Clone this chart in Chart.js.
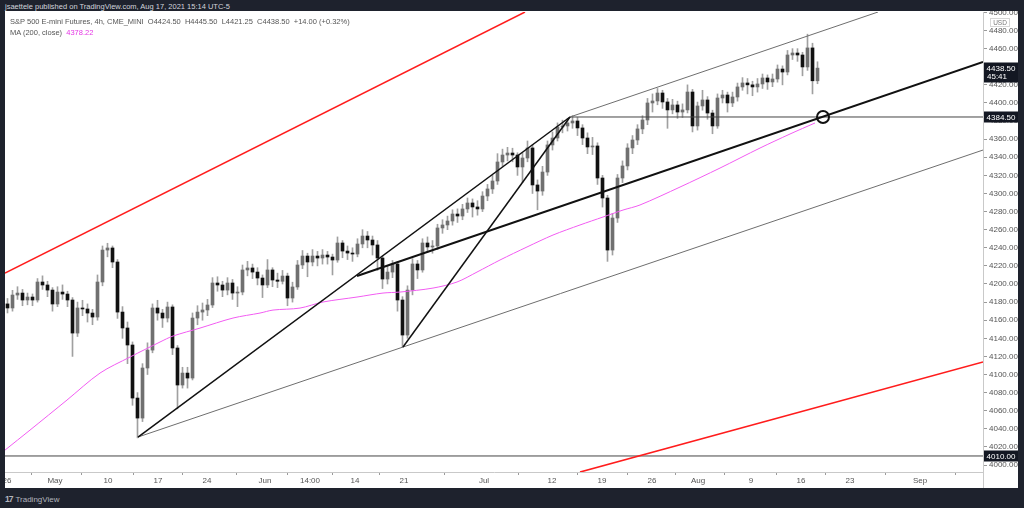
<!DOCTYPE html>
<html>
<head>
<meta charset="utf-8">
<script src="https://cdn.jsdelivr.net/npm/chart.js@4.4.1/dist/chart.umd.min.js"></script>
<style>
html, body { margin: 0; padding: 0; width: 1024px; height: 508px; overflow: hidden; background: #1e222d; font-family: "Liberation Sans", Arial, sans-serif; }
#pub { position: absolute; left: 5px; top: 2px; font-size: 7.5px; color: #d1d4dc; }
#frame { position: absolute; left: 5px; top: 11px; width: 1013px; height: 477px; background: #fff; }
#chart { position: absolute; left: 5px; top: 11px; }
#legend { position: absolute; left: 10px; top: 16px; font-size: 7.5px; color: #555; line-height: 11px; white-space: pre; }
#legend .ma { color: #e536e5; }
#logo { position: absolute; left: 5px; top: 494px; font-size: 8px; color: #b2b5be; }
#logo b { font-size: 8.5px; letter-spacing: -1px; margin-right: 3px; }
</style>
</head>
<body>
<div id="pub">jsaettele published on TradingView.com, Aug 17, 2021 15:14 UTC-5</div>
<div id="frame"></div>
<canvas id="chart" width="1013" height="477"></canvas>
<div id="legend">S&amp;P 500 E-mini Futures, 4h, CME_MINI  O4424.50  H4445.50  L4421.25  C4438.50  +14.00 (+0.32%)
MA (200, close)  <span class="ma">4378.22</span></div>
<div id="logo"><b>17</b>TradingView</div>
<script>
const closes = [4173.5,4187.8,4190,4182.3,4185.6,4182.3,4202.2,4198.9,4193.3,4177.9,
  4191.1,4188.9,4182.3,4145.8,4173.5,4172.4,4167.9,4163.5,4202.2,4237.5,
  4239.8,4224.3,4169,4151.4,4132.6,4074,4051.9,4107.2,4127,4173.5,
  4167.9,4162.4,4174.6,4129.3,4088.4,4101.6,4096.1,4162.4,4169,4171.3,
  4176.8,4201.1,4198.9,4193.3,4201.1,4190,4191.1,4215.5,4217.7,4213.2,
  4206.6,4198.9,4215.5,4204.4,4203,4208.8,4184.5,4196.7,4221,4230.9,
  4224.3,4230.9,4228.7,4232,4229.8,4226.5,4245.3,4236.4,4234.2,4233.1,
  4244.2,4253,4248.6,4243.1,4228.7,4205.5,4213.2,4222.1,4182.3,4143.6,
  4193.3,4222.1,4215.5,4245.3,4240.9,4242,4261.9,4265.2,4269.6,4277.3,
  4275.1,4282.9,4289.5,4285.1,4282.9,4297.2,4305,4313.8,4334.8,4342.5,
  4344.7,4342.5,4329.3,4339.2,4350.3,4309.4,4302.7,4323.7,4353.6,4361.3,
  4373.5,4374.6,4377.9,4380.1,4372.4,4361.3,4351.4,4352.5,4317.1,4295,
  4237.5,4272.9,4317.1,4330.4,4350.3,4359.1,4371.3,4381.2,4400,4402.2,
  4411,4401.1,4392.3,4397.8,4390,4392.3,4412.1,4374.6,4396.7,4403.3,
  4388.9,4374.6,4405.5,4408.8,4400,4406.6,4417.7,4422.1,4420,4417.7,
  4421,4427.6,4423.2,4426.5,4437.5,4434.2,4453,4455.2,4453,4439.8,
  4460.8,4424.5,4438.5];
const firstOpen = 4178;
const highs = [4184,4193,4197,4194,4190,4189,4206,4209,4203,4196,
  4197,4199,4192,4185,4180,4182,4178,4172,4210,4242,
  4245,4242,4227,4175,4158,4136,4080,4112,4135,4178,
  4182,4172,4180,4177,4132,4108,4108,4168,4176,4179,
  4183,4207,4208,4203,4207,4205,4197,4221,4225,4222,
  4218,4210,4227,4218,4212,4215,4212,4202,4226,4237,
  4234,4238,4236,4238,4236,4233,4252,4248,4242,4240,
  4250,4260,4258,4253,4248,4231,4220,4226,4225,4186,
  4198,4228,4226,4250,4252,4248,4266,4271,4275,4282,
  4283,4288,4295,4294,4292,4302,4310,4320,4344,4349,
  4351,4350,4345,4345,4358,4354,4315,4330,4358,4368,
  4378,4381,4383,4386,4384,4376,4367,4362,4356,4320,
  4298,4278,4321,4336,4355,4364,4376,4386,4405,4410,
  4416,4414,4405,4404,4402,4399,4420,4415,4401,4414,
  4407,4392,4410,4414,4412,4412,4422,4428,4427,4424,
  4427,4432,4431,4432,4442,4441,4458,4460,4460,4456,
  4476,4466,4445.5];
const lows = [4168,4170,4183,4176,4177,4176,4180,4194,4186,4170,
  4175,4183,4175,4120,4142,4165,4158,4155,4160,4198,
  4230,4218,4162,4140,4112,4066,4030,4048,4100,4124,
  4160,4152,4158,4122,4062,4085,4085,4094,4155,4160,
  4165,4174,4192,4186,4188,4183,4175,4188,4209,4206,
  4199,4185,4196,4197,4196,4200,4176,4180,4194,4217,
  4208,4220,4220,4222,4222,4210,4224,4229,4227,4225,
  4230,4240,4240,4232,4215,4195,4200,4207,4170,4130,
  4140,4188,4206,4213,4235,4234,4238,4256,4260,4265,
  4268,4271,4279,4274,4276,4280,4292,4300,4310,4330,
  4336,4335,4320,4312,4335,4300,4282,4298,4320,4348,
  4358,4367,4369,4372,4364,4354,4344,4343,4310,4285,
  4225,4232,4268,4312,4326,4344,4354,4366,4376,4390,
  4398,4394,4372,4388,4383,4384,4389,4368,4370,4392,
  4382,4366,4372,4400,4390,4396,4402,4414,4410,4408,
  4412,4416,4415,4418,4423,4420,4431,4448,4446,4430,
  4436,4410,4421.25];

// MA(200) read at a few points
const maSlots = [-0.5,4.5,11.9,18.5,24.5,30.5,33.1,38.5,45.1,50.5,53.1,58.5,63.1,69.9,75.1,78.5,85.1,89.9,93.9,98.5,103.9,109.1,114.5,119.1,123.1,126.5,134.5,142.5,150.5,156.5,161.5];
const maValues = [4016.5,4038.6,4071.8,4101.6,4119.3,4135.9,4142.5,4151.3,4162.4,4167.9,4171.2,4173.4,4180.1,4185.6,4190.0,4191.1,4195.5,4202.2,4213.2,4226.5,4240.9,4254.1,4265.2,4274.0,4281.7,4287.3,4307.1,4328.1,4350.2,4365.7,4377.9];

// drawn lines: [slot, price] end points
const redUpper = [[-0.5, 4212], [103.5, 4500.5]];
const redLower = [[114.5, 3992.2], [195.1, 4113.8]];
const channelLow = [[26.1, 4030.9], [195.1, 4348.0]];
const channelHigh = [[112.5, 4384.5], [174.1, 4500.5]];
const trendA = [[26.1, 4030.9], [112.5, 4384.5]];
const trendB = [[79.1, 4130.4], [112.5, 4384.5]];
const trendC = [[69.9, 4208.8], [195.1, 4445.3]];
const levelHigh = [[112.5, 4384.5], [195.1, 4384.5]];
const levelLow = [[-0.5, 4010], [195.1, 4010]];
const ringPoint = [163.1, 4384.5];

// axes
const xTickPos = [-0.1, 9.5, 20.1, 30.1, 39.9, 51.5, 60.5, 69.5, 79.3, 95.3, 108.9, 118.9, 128.9, 138.1, 148.7, 158.7, 168.5, 182.5];
const xTickText = ['26', 'May', '10', '17', '24', 'Jun', '14:00', '14', '21', 'Jul', '12', '19', '26', 'Aug', '9', '16', '23', 'Sep'];
const yTicks = [4000,4020,4040,4060,4080,4100,4120,4140,4160,4180,4200,4220,4240,4260,4280,4300,4320,4340,4360,4380,4400,4420,4440,4460,4480,4500];
const priceMarks = [4438.5, 4384.5, 4010];
const priceMarkText = ['4438.50', '4384.50', '4010.00'];
const countdown = '45:41';

const opens = closes.map((c, i) => i ? closes[i - 1] : firstOpen);
const bodies = closes.map((c, i) => ({ x: i, y: [opens[i], c] }));
const wicks = closes.map((c, i) => ({ x: i, y: [lows[i], highs[i]] }));
const isUp = closes.map((c, i) => c >= opens[i]);
const pts = arr => arr.map(p => ({ x: p[0], y: p[1] }));

function seg(data, color, width, order) {
    return { type: 'line', data: pts(data), borderColor: color, borderWidth: width, pointRadius: 0, tension: 0, order: order };
}

// boxes on the price axis
const axisBoxes = {
    id: 'axisBoxes',
    afterDraw(chart) {
        const { ctx, chartArea, scales } = chart;
        const y = scales.y;
        const left = chartArea.right + 1;
        const w = chart.width - left;
        ctx.save();
        ctx.strokeStyle = '#c9c9c9';
        ctx.lineWidth = 1;
        ctx.beginPath();
        ctx.moveTo(chartArea.right + 0.5, chartArea.bottom);
        ctx.lineTo(chartArea.right + 0.5, chart.height);
        ctx.stroke();
        // USD tag
        ctx.fillStyle = '#fff';
        ctx.fillRect(left + 6, 7, 20, 9);
        ctx.strokeStyle = '#d6d6d6';
        ctx.strokeRect(left + 6.5, 7.5, 19, 8);
        ctx.fillStyle = '#777';
        ctx.font = '6.5px "Liberation Sans", Arial, sans-serif';
        ctx.textAlign = 'center';
        ctx.textBaseline = 'middle';
        ctx.fillText('USD', left + 16, 12);
        ctx.font = '8px "Liberation Sans", Arial, sans-serif';
        priceMarks.forEach((v, i) => {
            const py = Math.round(y.getPixelForValue(v));
            const h = i === 0 ? 20 : 11;
            const top = py - 5.5;
            ctx.fillStyle = '#131722';
            ctx.fillRect(left, top, w, h);
            ctx.fillStyle = '#fff';
            ctx.fillText(priceMarkText[i], left + w / 2, py + 0.5);
            if (i === 0) ctx.fillText(countdown, left + w / 2 - 4, py + 9);
        });
        ctx.restore();
    }
};

new Chart(document.getElementById('chart'), {
    type: 'bar',
    data: {
        datasets: [
            {
                data: wicks, grouped: false, barThickness: 1, order: 6,
                backgroundColor: '#a0a0a0', borderWidth: 0
            },
            {
                data: bodies, grouped: false, barThickness: 3, order: 5,
                backgroundColor: ctx => isUp[ctx.dataIndex] ? '#707070' : '#111111',
                borderWidth: 0
            },
            {
                type: 'line', data: maSlots.map((s, i) => ({ x: s, y: maValues[i] })),
                borderColor: '#f25cf2', borderWidth: 1, pointRadius: 0, tension: 0.3, order: 4
            },
            seg(redUpper, '#ff1c1c', 1.5, 3),
            seg(redLower, '#ff1c1c', 1.5, 3),
            seg(channelLow, '#6e6e6e', 1, 3),
            seg(channelHigh, '#6e6e6e', 1, 3),
            seg(levelHigh, '#444444', 1, 3),
            seg(levelLow, '#444444', 1, 3),
            seg(trendA, '#111111', 1.5, 2),
            seg(trendB, '#111111', 1.5, 2),
            seg(trendC, '#111111', 2, 2),
            {
                type: 'line', data: [{ x: ringPoint[0], y: ringPoint[1] }], showLine: false,
                pointRadius: 6, pointBorderWidth: 2, pointBorderColor: '#111111',
                pointBackgroundColor: 'rgba(0,0,0,0)', order: 1
            }
        ]
    },
    options: {
        responsive: false,
        animation: false,
        devicePixelRatio: 1,
        layout: { autoPadding: false, padding: { top: 1, left: 0, right: 0, bottom: 0 } },
        plugins: { legend: { display: false }, tooltip: { enabled: false } },
        scales: {
            x: {
                type: 'linear', min: -0.5, max: 195.1, offset: false,
                afterBuildTicks: s => { s.ticks = xTickPos.map(v => ({ value: v })); },
                afterFit: s => { s.height = 16; s.paddingLeft = 0; s.paddingRight = 0; },
                grid: { drawOnChartArea: false, tickLength: 3, color: '#9a9a9a' },
                border: { color: '#c9c9c9' },
                ticks: {
                    autoSkip: false, maxRotation: 0, padding: 1, color: '#555',
                    font: { family: '"Liberation Sans", Arial, sans-serif', size: 8 },
                    callback: (v, i) => xTickText[i]
                }
            },
            y: {
                type: 'linear', position: 'right', min: 3992.3, max: 4500.5,
                afterBuildTicks: s => { s.ticks = yTicks.map(v => ({ value: v })); },
                afterFit: s => { s.width = 35; s.paddingTop = 0; s.paddingBottom = 0; },
                grid: { drawOnChartArea: false, tickLength: 4, color: '#9a9a9a' },
                border: { color: '#c9c9c9' },
                ticks: {
                    padding: 2, color: '#555',
                    font: { family: '"Liberation Sans", Arial, sans-serif', size: 8 },
                    callback: v => v.toFixed(2)
                }
            }
        }
    },
    plugins: [axisBoxes]
});
</script>
</body>
</html>
